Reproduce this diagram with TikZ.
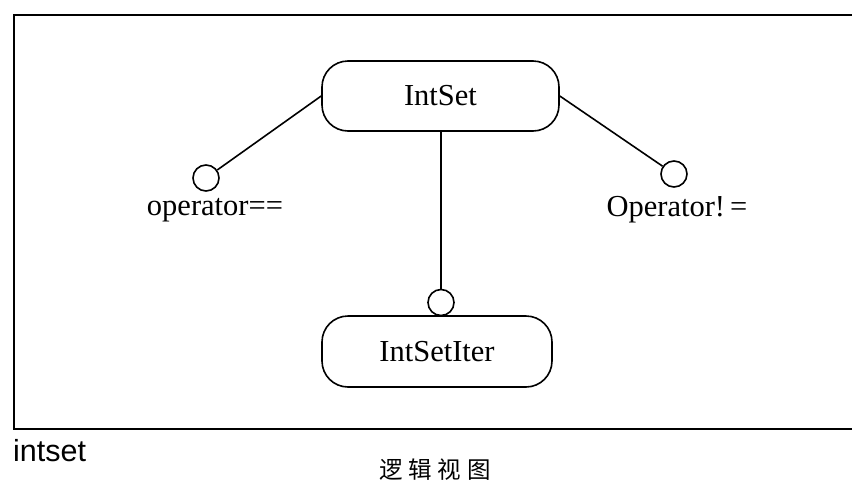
\documentclass[tikz,border=0pt]{standalone}
\usepackage{fontspec}
\setmainfont{Liberation Serif}
\newfontfamily\labelsans{Liberation Sans}
\newfontfamily\cjk{Noto Sans CJK SC}
\begin{document}
\begin{tikzpicture}[x=1pt,y=-1pt,
  classbox/.style={draw, line width=1.6pt, rounded corners=26pt,
    minimum width=237pt, minimum height=70pt, inner sep=0pt,
    font=\fontsize{30.5}{35}\selectfont},
  lollipop/.style={draw, circle, line width=1.6pt, minimum size=26pt, inner sep=0pt},
  link/.style={line width=1.6pt},
  ifacelabel/.style={anchor=base, inner sep=0pt, font=\fontsize{30.5}{35}\selectfont}]
  \useasboundingbox (0,0) rectangle (852,485);

  % package frame, open on the right
  \draw[line width=1.5pt] (852,15) -- (14,15) -- (14,429) -- (852,429);

  % classes
  \node[classbox] (intset) at (440.5,96) {IntSet\hspace{10pt}};
  \node[classbox, minimum width=230pt, minimum height=71pt] (iter) at (437,351.5) {IntSetIter};

  % interface circles
  \node[lollipop] (eq) at (206,178) {};
  \node[lollipop] (neq) at (674,174) {};
  \node[lollipop] (itf) at (441,302.5) {};

  % connectors
  \draw[link] (intset.west) -- (eq);
  \draw[link] (intset.east) -- (neq);
  \draw[link] (intset.south -| itf) -- (itf);

  % interface labels
  \node[ifacelabel] (eqlabel) at (215,215) {operator==};
  \node[ifacelabel] (neqlabel) at (677,216) {Operator!\,=};

  % package name and caption
  \node[anchor=base west, inner sep=0pt, font=\labelsans\fontsize{30.5}{35}\selectfont] (pkg) at (13,461) {intset};
  \node[anchor=base, inner sep=0pt, font=\cjk\fontsize{23.5}{28}\selectfont] (caption) at (435,478)
    {逻\hspace{6pt}辑\hspace{6pt}视\hspace{6pt}图};
\end{tikzpicture}
\end{document}
